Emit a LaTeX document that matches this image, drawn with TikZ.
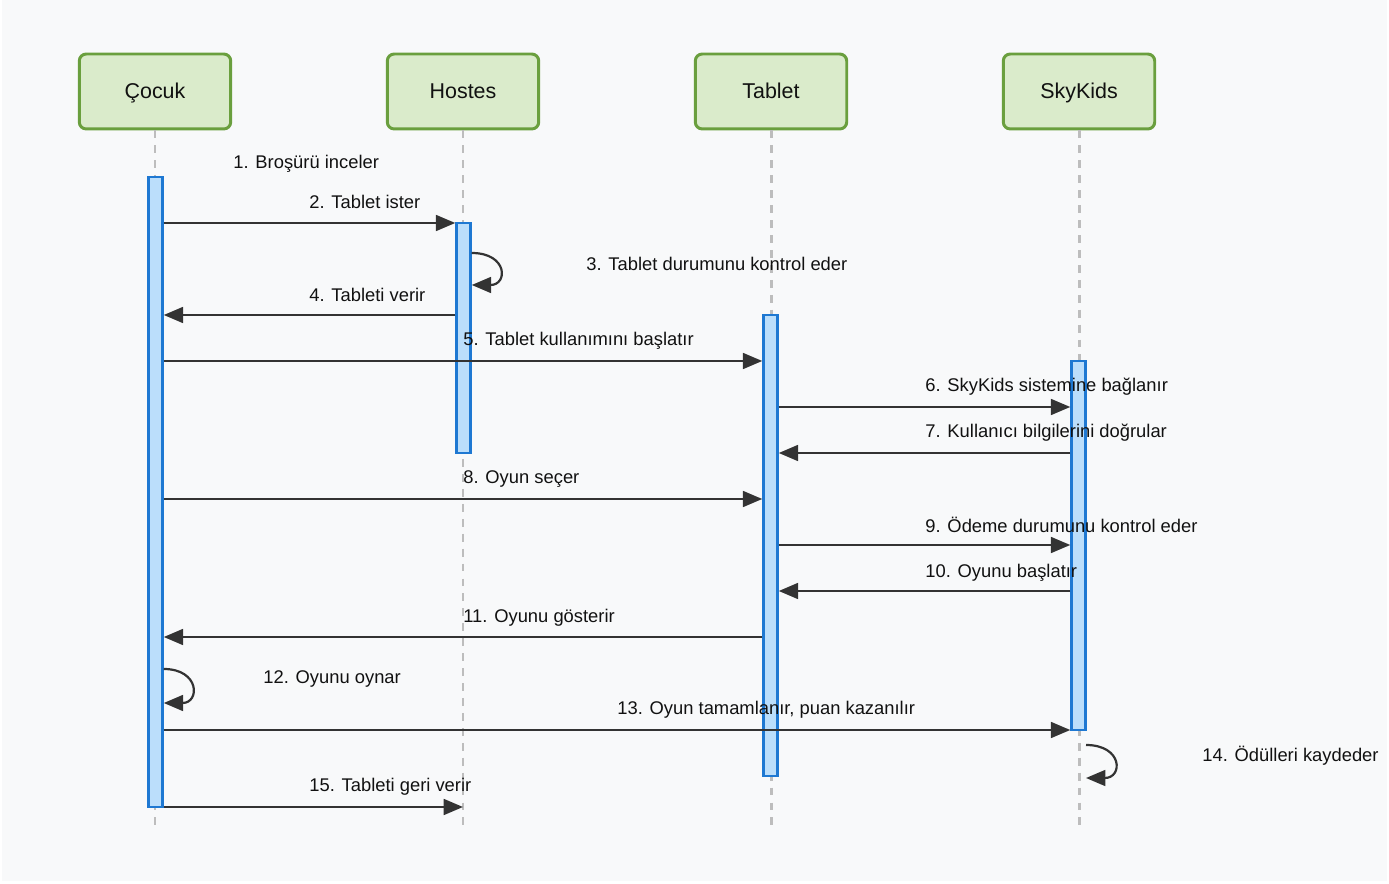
\documentclass[tikz,border=0pt]{standalone}
\usepackage{fontspec}
\setmainfont{Liberation Sans}
\usetikzlibrary{arrows.meta}
\definecolor{bgcol}{HTML}{F8F9FA}
\definecolor{actfill}{HTML}{DAEBCB}
\definecolor{actdraw}{HTML}{6A9F3E}
\definecolor{barfill}{HTML}{BBDEFB}
\definecolor{bardraw}{HTML}{1E78D2}
\definecolor{lifecol}{HTML}{BDBDBD}
\definecolor{ink}{HTML}{333333}
\definecolor{txt}{HTML}{111111}
\tikzset{
  actor/.style={draw=actdraw, fill=actfill, line width=1.7pt, rounded corners=4pt,
    minimum width=3.03cm, minimum height=1.5cm, inner sep=0pt,
    text height=1.55ex, text depth=0.1ex,
    font=\fontsize{12.2pt}{14pt}\selectfont, text=txt},
  life/.style={draw=lifecol, line width=1.7pt, dash pattern=on 4.5pt off 4pt},
  bar/.style={draw=bardraw, fill=barfill, line width=1.4pt, minimum width=0.28cm, inner sep=0pt},
  msg/.style={draw=ink, line width=1.25pt, -{Triangle[length=11pt,width=9pt]}},
  lbl/.style={anchor=west, inner sep=0pt, font=\fontsize{10.45pt}{12pt}\selectfont, text=txt},
}
\begin{document}
\begin{tikzpicture}[x=0.02cm,y=-0.02cm]
\useasboundingbox (0,0) rectangle (1389,884);
\fill[white] (0,0) rectangle (1389,884);
\fill[bgcol] (2,0) rectangle (1387,881);

% participants
\node[actor] (aC) at (155,91.5) {Çocuk};
\node[actor] (aH) at (463,91.5) {Hostes};
\node[actor] (aT) at (771,91.5) {Tablet};
\node[actor] (aS) at (1079,91.5) {SkyKids};

% lifelines
\coordinate (eC) at (155,830);
\coordinate (eH) at (463,830);
\coordinate (eT) at (771,830);
\coordinate (eS) at (1079,830);
\draw[life] (aC.south) -- (eC);
\draw[life] (aH.south) -- (eH);
\draw[life] (aT.south) -- (eT);
\draw[life] (aS.south) -- (eS);

% activation bars
\node[bar, minimum height=12.6cm] (bC) at (155.5,492) {};
\node[bar, minimum height=4.6cm] (bH) at (463.5,338) {};
\node[bar, minimum height=9.22cm] (bT) at (770.5,545.5) {};
\node[bar, minimum height=7.38cm] (bS) at (1078.5,545.5) {};

% messages
\draw[msg] (bC.east |- 0,223) -- (bH.west |- 0,223);
\draw[msg] (bH.east |- 0,253) .. controls (508,253) and (508,285) .. (bH.east |- 0,285);
\draw[msg] (bH.west |- 0,315) -- (bC.east |- 0,315);
\draw[msg] (bC.east |- 0,361) -- (bT.west |- 0,361);
\draw[msg] (bT.east |- 0,407) -- (bS.west |- 0,407);
\draw[msg] (bS.west |- 0,453) -- (bT.east |- 0,453);
\draw[msg] (bC.east |- 0,499) -- (bT.west |- 0,499);
\draw[msg] (bT.east |- 0,545) -- (bS.west |- 0,545);
\draw[msg] (bS.west |- 0,591) -- (bT.east |- 0,591);
\draw[msg] (bT.west |- 0,637) -- (bC.east |- 0,637);
\draw[msg] (bC.east |- 0,669) .. controls (200,669) and (200,703) .. (bC.east |- 0,703);
\draw[msg] (bC.east |- 0,730) -- (bS.west |- 0,730);
\coordinate (s14a) at (1086,745);
\coordinate (s14b) at (1086,778);
\draw[msg] (s14a) .. controls (1123,745) and (1123,778) .. (s14b);
\draw[msg] (bC.east |- 0,807) -- (eH |- 0,807);

% message labels
\node[lbl] (t1) at (233,164) {1. Broşürü inceler};
\node[lbl] (t2) at (309,202) {2. Tablet ister};
\node[lbl] (t3) at (586,264) {3. Tablet durumunu kontrol eder};
\node[lbl] (t4) at (309,295) {4. Tableti verir};
\node[lbl] (t5) at (463,341) {5. Tablet kullanımını başlatır};
\node[lbl] (t6) at (925,387) {6. SkyKids sistemine bağlanır};
\node[lbl] (t7) at (925,433) {7. Kullanıcı bilgilerini doğrular};
\node[lbl] (t8) at (463,479) {8. Oyun seçer};
\node[lbl] (t9) at (925,525) {9. Ödeme durumunu kontrol eder};
\node[lbl] (t10) at (925,573) {10. Oyunu başlatır};
\node[lbl] (t11) at (463,618) {11. Oyunu gösterir};
\node[lbl] (t12) at (263,679) {12. Oyunu oynar};
\node[lbl] (t13) at (617,710) {13. Oyun tamamlanır, puan kazanılır};
\node[lbl] (t14) at (1202,756) {14. Ödülleri kaydeder};
\node[lbl] (t15) at (309,787) {15. Tableti geri verir};
\end{tikzpicture}
\end{document}
